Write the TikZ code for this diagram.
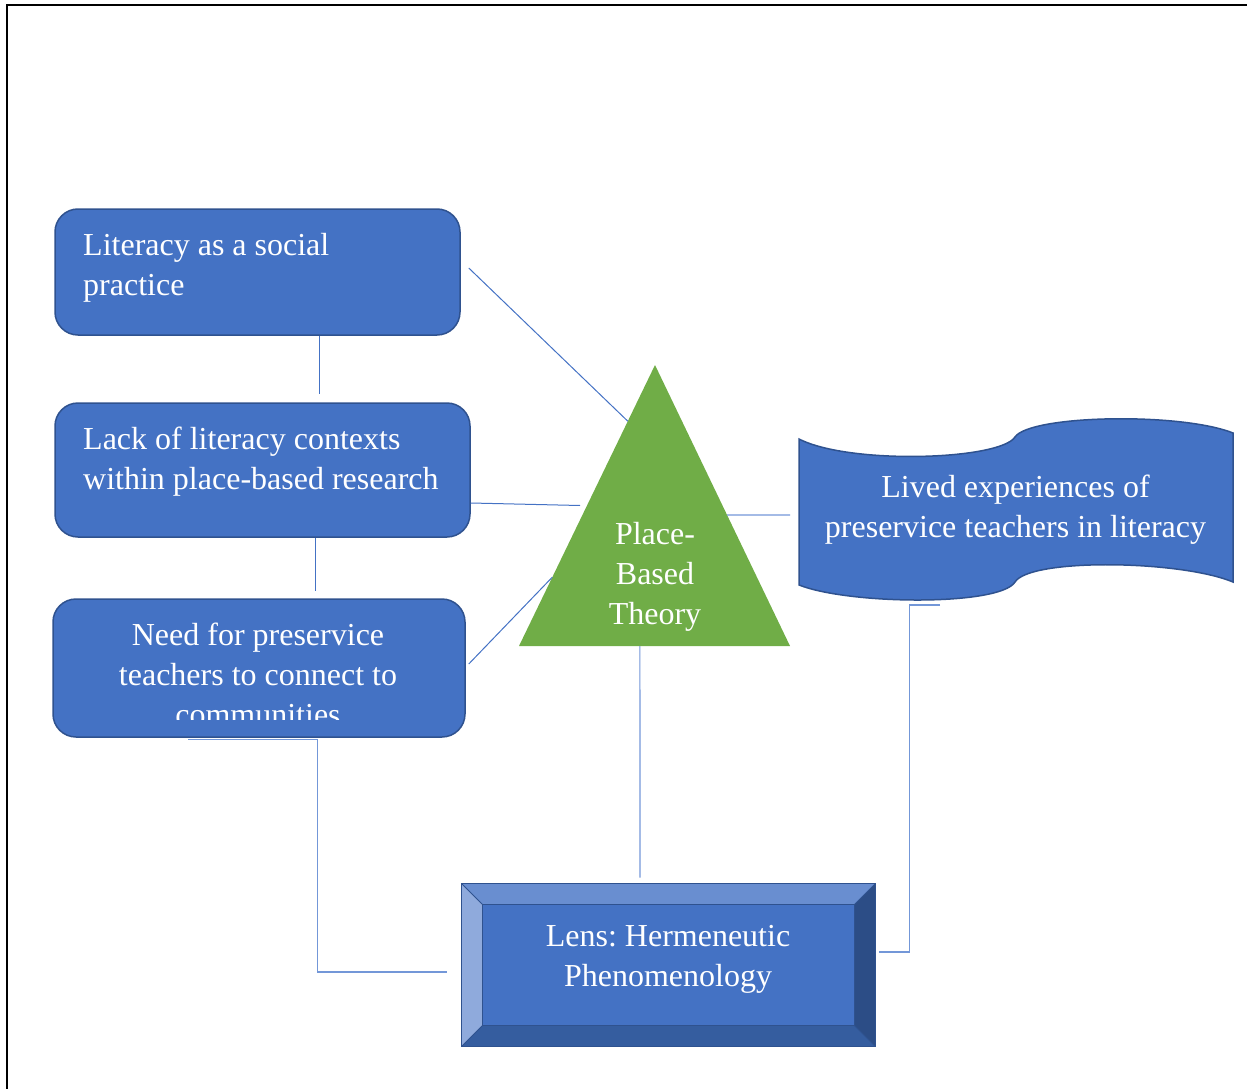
\documentclass[tikz,border=0pt]{standalone}
\usepackage{fontspec}
\setmainfont{Liberation Serif}
\usetikzlibrary{calc}
\definecolor{boxblue}{HTML}{4472C4}
\definecolor{boxline}{HTML}{2F528F}
\definecolor{linkblue}{HTML}{4472C4}
\definecolor{linklight}{HTML}{7397D8}
\definecolor{tgreen}{HTML}{70AD47}
\definecolor{bevtop}{HTML}{698ED0}
\definecolor{bevleft}{HTML}{8FAADC}
\definecolor{bevbot}{HTML}{355D9F}
\definecolor{bevright}{HTML}{2C4D86}
\tikzset{
  box/.style={draw=boxline, line width=1.5pt, fill=boxblue, rounded corners=23pt, inner sep=0pt},
  txt/.style={text=white, font=\fontsize{32}{40}\selectfont\frenchspacing, inner sep=0pt},
  link/.style={draw=linkblue, line width=1pt},
  elbow/.style={draw=linklight, line width=1.2pt},
}
\begin{document}
\begin{tikzpicture}[x=1pt,y=-1pt]
	\useasboundingbox (0,0) rectangle (1247,1089);
	\draw[line width=2pt] (7,1089)--(7,5)--(1247,5);
	% left column
	\node[box, minimum width=405pt, minimum height=126pt] (lit) at (257.5,272) {};
	\node[txt, anchor=base west, align=left] (lit-t) at (83,295) {Literacy as a social\\practice};
	\node[box, minimum width=415pt, minimum height=134pt] (lack) at (262.5,470) {};
	\node[txt, anchor=base west, align=left] (lack-t) at (83,489) {Lack of literacy contexts\\within place-based research};
	\node[box, minimum width=412pt, minimum height=138pt] (need) at (259,668) {};
	\begin{scope}
		\clip (53,599) rectangle (465,719);
		\node[txt, anchor=base, align=center] (need-t) at (258,725) {Need for preservice\\teachers to connect to\\communities};
	\end{scope}
	% triangle
	\coordinate (apex) at (655,365);
	\coordinate (bl) at (519,646);
	\coordinate (br) at (790,646);
	\fill[tgreen] (apex)--(br)--(bl)--cycle;
	\node[txt, anchor=base, align=center] (pbt) at (655,624) {Place-\\Based\\Theory};
	% wave
	\draw[boxline, line width=1.5pt, fill=boxblue] (799,439) .. controls (850,465) and (1000,460) .. (1015,437)
		.. controls (1030,415) and (1180,412) .. (1233,433) -- (1233,582)
		.. controls (1180,560) and (1030,558) .. (1015,582)
		.. controls (1000,606) and (850,605) .. (799,585) -- cycle;
	\coordinate (wave-w) at (799,515);
	\coordinate (wave-s) at (940,600);
	\node[txt, anchor=base, align=center] (lived) at (1015.5,537) {Lived experiences of\\preservice teachers in literacy};
	% bevel box
	\node[draw=boxline, fill=boxblue, line width=1pt, minimum width=413pt, minimum height=162pt, inner sep=0pt] (lens) at (668.5,965) {};
	\fill[bevtop] (lens.north west)--(lens.north east)--($(lens.north east)+(-21,21)$)--($(lens.north west)+(21,21)$)--cycle;
	\fill[bevleft] (lens.north west)--($(lens.north west)+(21,21)$)--($(lens.south west)+(21,-21)$)--(lens.south west)--cycle;
	\fill[bevbot] (lens.south west)--($(lens.south west)+(21,-21)$)--($(lens.south east)+(-21,-21)$)--(lens.south east)--cycle;
	\fill[bevright] (lens.north east)--($(lens.north east)+(-21,21)$)--($(lens.south east)+(-21,-21)$)--(lens.south east)--cycle;
	\draw[boxline, line width=1pt] ($(lens.north west)+(21,21)$) rectangle ($(lens.south east)+(-21,-21)$);
	\foreach \c/\dx/\dy in {north west/21/21,north east/-21/21,south west/21/-21,south east/-21/-21}
		\draw[boxline, line width=1pt] (lens.\c)--($(lens.\c)+(\dx,\dy)$);
	\draw[boxline, line width=1.5pt] (lens.north west) rectangle (lens.south east);
	\node[txt, anchor=base, align=center] (lens-t) at (668,986) {Lens: Hermeneutic\\Phenomenology};
	% connectors
	\draw[link] ($(lit.south west)+(265,0)$)--($(lack.north west)+(265,-8)$);
	\draw[link] ($(lack.south west)+(261,0)$)--($(need.north west)+(263,-7)$);
	\draw[link] ($(lit.east)+(8,-4)$)--($(apex)!0.2!(bl)$);
	\draw[link] ($(lack.east)+(0,33)$)--($(apex)!0.5!(bl)+(-7,0)$);
	\draw[link] ($(need.east)+(3,-4)$)--($(apex)!0.755!(bl)$);
	\draw[elbow] ($(apex)!0.534!(br)$)--($(wave-w)+(-9,0)$);
	\draw[elbow] ($(bl)!0.446!(br)$)--($(lens.north)+(-28.5,-6)$);
	\draw[elbow] ($(need.south)+(-71,2)$)-|($(lens.west)+(-144,7)$)--($(lens.west)+(-15,7)$);
	\draw[elbow] ($(wave-s)+(0,5)$)-|($(lens.east)+(34,-13)$)--($(lens.east)+(3,-13)$);
\end{tikzpicture}
\end{document}
